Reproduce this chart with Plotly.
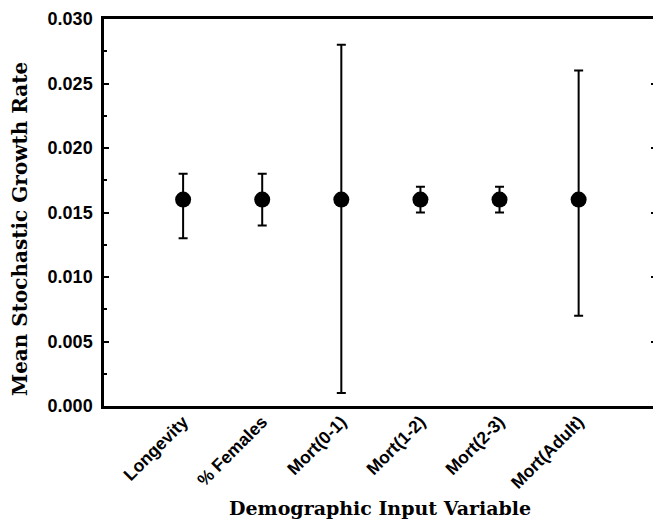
import plotly.graph_objects as go

categories = ["Longevity", "% Females", "Mort(0-1)", "Mort(1-2)", "Mort(2-3)", "Mort(Adult)"]
mean_rate = [0.016, 0.016, 0.016, 0.016, 0.016, 0.016]
upper = [0.018, 0.018, 0.028, 0.017, 0.017, 0.026]
lower = [0.013, 0.014, 0.001, 0.015, 0.015, 0.007]
y_ticks = [0.0, 0.005, 0.010, 0.015, 0.020, 0.025, 0.030]
y_ticktext = ["0.000", "0.005", "0.010", "0.015", "0.020", "0.025", "0.030"]

err_plus = [round(u - m, 6) for u, m in zip(upper, mean_rate)]
err_minus = [round(m - l, 6) for m, l in zip(mean_rate, lower)]

fig = go.Figure()
fig.add_trace(go.Scatter(
    x=categories, y=mean_rate, mode="markers",
    marker=dict(size=16, color="black"),
    error_y=dict(type="data", array=err_plus, arrayminus=err_minus,
                 color="black", thickness=2, width=4.5, visible=True),
    showlegend=False, hoverinfo="skip",
))
# dummy trace for right-side mirror ticks
fig.add_trace(go.Scatter(
    x=categories, y=mean_rate, yaxis="y2", mode="markers",
    marker=dict(size=1, opacity=0), showlegend=False, hoverinfo="skip",
))

fig.update_layout(
    width=653, height=525,
    margin=dict(l=104, r=0, t=19, b=119),
    paper_bgcolor="white", plot_bgcolor="white",
    xaxis=dict(
        type="category", range=[-1, 5.94],
        showgrid=False, zeroline=False,
        showline=True, linecolor="black", linewidth=2.5, mirror=True,
        ticks="", tickangle=-45, ticklabelstandoff=-4,
        tickfont=dict(family="Liberation Sans, Arial", size=17.5, color="black", weight="bold"),
    ),
    yaxis=dict(
        range=[0, 0.030], tickvals=y_ticks, ticktext=y_ticktext,
        showgrid=False, zeroline=False,
        showline=True, linecolor="black", linewidth=2.5,
        ticks="inside", ticklen=5, tickwidth=2, tickcolor="black",
        ticklabelstandoff=5,
        minor=dict(ticks="inside", ticklen=3, tickwidth=2, tickcolor="black", dtick=0.0025),
        tickfont=dict(family="Liberation Sans, Arial", size=18, color="black", weight="bold"),
    ),
    yaxis2=dict(
        overlaying="y", side="right", range=[0, 0.030], tickvals=y_ticks[1:-1],
        showgrid=False, zeroline=False, showline=False,
        ticks="inside", ticklen=2, tickwidth=2, tickcolor="black",
        showticklabels=False,
    ),
    annotations=[
        dict(text="<b>Demographic Input Variable</b>", xref="paper", yref="paper",
             x=(380 - 104) / 549, y=-(508 - 406) / 387, xanchor="center", yanchor="middle",
             showarrow=False, font=dict(family="DejaVu Serif", size=19, color="black")),
        dict(text="<b>Mean Stochastic Growth Rate</b>", xref="paper", yref="paper",
             x=-(104 - 20) / 549, y=(406 - 229) / 387, xanchor="center", yanchor="middle",
             textangle=-90, showarrow=False,
             font=dict(family="DejaVu Serif", size=20, color="black")),
    ],
)

fig.write_html("out.html")
